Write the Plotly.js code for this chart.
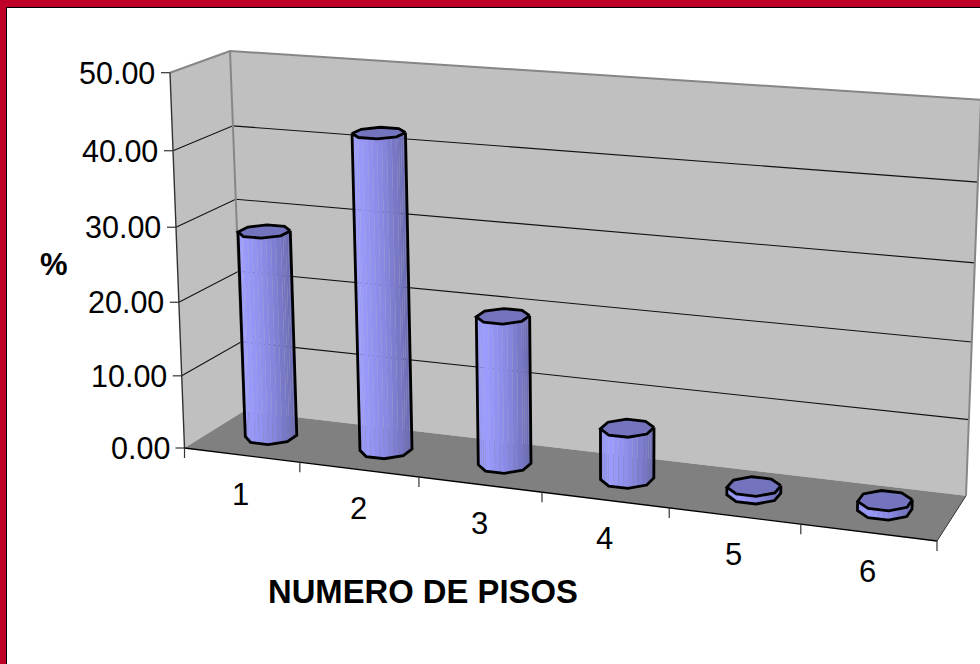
<!DOCTYPE html>
<html><head><meta charset="utf-8">
<script src="https://cdn.plot.ly/plotly-3.0.1.min.js"></script>
<style>html,body{margin:0;padding:0;background:#fff}#c{width:980px;height:664px}</style></head>
<body><div id="c"></div>
<script>
const categories = ['1','2','3','4','5','6'];
const percents = [28.2, 42.4, 19.9, 6.8, 1.0, 1.2];
const valueTicks = [0,10,20,30,40,50];
const valueLabels = ['0.00','10.00','20.00','30.00','40.00','50.00'];
const xTitle = 'NUMERO DE PISOS';
const yTitle = '%';

const FONT = 'Liberation Sans, Arial, sans-serif';
function quad(p0,p1,p2,p3){
  const dx1=p1[0]-p2[0],dx2=p3[0]-p2[0],sx=p0[0]-p1[0]+p2[0]-p3[0];
  const dy1=p1[1]-p2[1],dy2=p3[1]-p2[1],sy=p0[1]-p1[1]+p2[1]-p3[1];
  const den=dx1*dy2-dx2*dy1;
  const g=(sx*dy2-dx2*sy)/den,h=(dx1*sy-sx*dy1)/den;
  const a=p1[0]-p0[0]+g*p1[0],b=p3[0]-p0[0]+h*p3[0],c=p0[0];
  const d=p1[1]-p0[1]+g*p1[1],e=p3[1]-p0[1]+h*p3[1],f=p0[1];
  return (s,t)=>{const q=g*s+h*t+1;return [(a*s+b*t+c)/q,(d*s+e*t+f)/q];};
}
const floorQ = quad([184.5,448],[937,541],[966,495.8],[244,411]);
const topQ   = quad([170,72.7],[951.5,126.4],[981,99.8],[230,51]);
const K=1.05, VMAX=50, NC=categories.length;
function P(u,v,w){
  const b=floorQ(u/NC,w), a=topQ(u/NC,w), s=v/VMAX, t=s/(s+(1-s)*K);
  return [b[0]+(a[0]-b[0])*t, b[1]+(a[1]-b[1])*t];
}
const traces=[];
function poly(pts,fill,lc,lw){
  traces.push({type:'scatter',mode:lc?'lines':'none',x:pts.map(p=>p[0]),y:pts.map(p=>p[1]),
    fill:fill?'toself':'none',fillcolor:fill||undefined,line:{color:lc||'rgba(0,0,0,0)',width:lw||0},
    hoverinfo:'skip',showlegend:false});
}
const line=(pts,c,w)=>poly(pts,null,c,w);

// walls and floor
poly([P(0,0,1),P(NC,0,1),P(NC,VMAX,1),P(0,VMAX,1)],'#C0C0C0');
poly([P(0,0,0),P(0,0,1),P(0,VMAX,1),P(0,VMAX,0)],'#C0C0C0');
poly([P(0,0,0),P(NC,0,0),P(NC,0,1),P(0,0,1)],'#808080');
// gridlines
valueTicks.forEach(v=>{
  if(v===0||v===VMAX) return;
  line([P(0,v,0),P(0,v,1),P(NC,v,1)],'#111',1.1);
});
line([P(0,VMAX,0),P(0,VMAX,1),P(NC,VMAX,1)],'#868686',2);
line([P(0,0,1),P(0,VMAX,1)],'#868686',2);
line([P(NC,0,1),P(NC,VMAX,1)],'#868686',2);
line([P(0,0,0),P(0,VMAX,0)],'#333',1.4);
line([P(0,0,0),P(NC,0,0)],'#000',1.4);
line([P(NC,0,0),P(NC,0,1)],'#333',1);
// ticks
valueTicks.forEach(v=>{const p=P(0,v,0);line([[p[0]-9,p[1]],p],'#333',1.2);});
for(let i=0;i<=NC;i++){const p=P(i,0,0);line([p,[p[0],p[1]+10]],'#333',1.2);}

// cylinders
const RU=0.2,RW=0.22,N=8,OFF=Math.PI/8,SUB=4;
function ramp(f){
  const stops=[[0,[146,146,240]],[0.18,[156,156,255]],[0.6,[136,136,226]],[1,[106,106,176]]];
  for(let i=1;i<stops.length;i++) if(f<=stops[i][0]){
    const a=stops[i-1],b=stops[i],t=(f-a[0])/(b[0]-a[0]);
    const c=a[1].map((x,j)=>Math.round(x+(b[1][j]-x)*t));
    return `rgb(${c})`;
  }
  return 'rgb(106,106,176)';
}
percents.forEach((val,i)=>{
  const uc=i+0.5,wc=0.5,angs=[];
  for(let k=0;k<N;k++) angs.push(OFF+k*2*Math.PI/N);
  const ring=v=>angs.map(a=>P(uc+RU*Math.cos(a),v,wc+RW*Math.sin(a)));
  const bot=ring(0),top=ring(val);
  const vis=[];
  for(let k=0;k<N;k++){
    const mid=Math.sin(angs[k]+Math.PI/N);
    if(mid<0) vis.push(k);
  }
  vis.sort((p,q)=>bot[p][0]-bot[q][0]);
  const xs=[...bot,...top].map(p=>p[0]),x0=Math.min(...xs),x1=Math.max(...xs);
  const mix=(A,B,t)=>[A[0]+(B[0]-A[0])*t,A[1]+(B[1]-A[1])*t];
  vis.forEach(k=>{
    const n=(k+1)%N;
    for(let s=0;s<SUB;s++){
      const l=s/SUB,r=(s+1)/SUB;
      const q=[mix(bot[k],bot[n],l),mix(bot[k],bot[n],r),mix(top[k],top[n],r),mix(top[k],top[n],l)];
      const f=((q[0][0]+q[1][0])/2-x0)/(x1-x0);
      poly(q,ramp(f));
    }
  });
  const sil=[top[vis[0]]];
  vis.forEach(k=>sil.push(bot[k]));
  const last=(vis[vis.length-1]+1)%N;
  sil.push(bot[last],top[last]);
  line(sil,'#000',2.8);
  poly([...top,top[0]],'#7373BE','#000',2.8);
});

// text
const ann=[];
valueTicks.forEach((v,i)=>{const p=P(0,v,0);
  ann.push({x:p[0]-13,y:p[1],text:valueLabels[i],xanchor:'right',yanchor:'middle',size:30.5});});
categories.forEach((c,i)=>{const p=P(i+0.5,0,0);
  ann.push({x:p[0]-0.8,y:p[1]+39,text:c,xanchor:'center',yanchor:'middle',size:31});});
ann.push({x:423,y:591,text:'<b>'+xTitle+'</b>',xanchor:'center',yanchor:'middle',size:32.8});
ann.push({x:54,y:264,text:'<b>'+yTitle+'</b>',xanchor:'center',yanchor:'middle',size:31});

const layout={width:980,height:664,margin:{l:0,r:0,t:0,b:0,pad:0},showlegend:false,
  paper_bgcolor:'#fff',plot_bgcolor:'rgba(0,0,0,0)',
  xaxis:{range:[0,980],visible:false,fixedrange:true},
  yaxis:{range:[664,0],visible:false,fixedrange:true},
  shapes:[
    {type:'rect',layer:'below',x0:0,y0:0,x1:980,y1:664,fillcolor:'#BF0027',line:{width:0}},
    {type:'rect',layer:'below',x0:6.5,y0:7.5,x1:1000,y1:700,fillcolor:'#fff',line:{color:'#000',width:1}}
  ],
  annotations:ann.map(a=>({x:a.x,y:a.y,xref:'x',yref:'y',text:a.text,showarrow:false,xanchor:a.xanchor,yanchor:a.yanchor,
    font:{family:FONT,size:a.size,color:'#000'}}))
};
Plotly.newPlot('c',traces,layout,{displayModeBar:false,staticPlot:true});
</script></body></html>
